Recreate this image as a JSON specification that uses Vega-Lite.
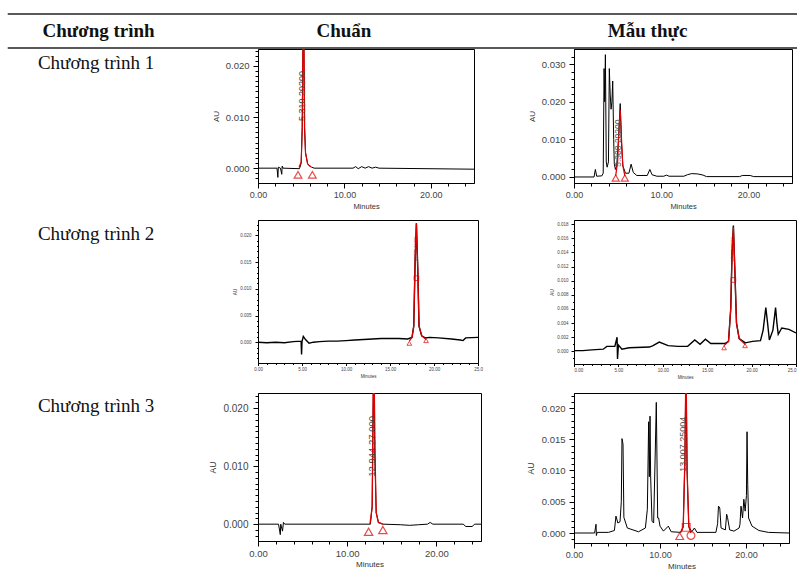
{
 "$schema": "https://vega.github.io/schema/vega-lite/v6.json",
 "background": "white",
 "padding": {"left": 0, "top": 13, "right": 0, "bottom": 0},
 "config": {
  "view": {"stroke": null},
  "axis": {"grid": false, "domainColor": "black", "tickColor": "black", "labelColor": "#444", "labelFont": "Liberation Sans", "titleFont": "Liberation Sans", "titleFontWeight": "normal", "titleColor": "#333", "labelOverlap": false, "labelFlush": false, "labelBound": false}
 },
 "datasets": {
  "r1c": [{"t":0,"au":0},{"t":2.2,"au":0},{"t":2.3,"au":-0.0018},{"t":2.35,"au":0.0002},{"t":2.6,"au":0},{"t":2.75,"au":-0.0012},{"t":2.8,"au":0.0004},{"t":2.9,"au":0},{"t":4.8,"au":-0.0001},{"t":5.0,"au":0.001},{"t":5.12,"au":0.008},{"t":5.22,"au":0.026},{"t":5.3,"au":0.026},{"t":5.38,"au":0.008},{"t":5.5,"au":0.003},{"t":5.75,"au":0.0008},{"t":6.2,"au":0.0002},{"t":6.5,"au":0},{"t":11,"au":0},{"t":11.3,"au":0.0003},{"t":11.6,"au":-0.0001},{"t":12,"au":0.0003},{"t":12.4,"au":0},{"t":12.8,"au":0.0003},{"t":13.2,"au":0},{"t":13.6,"au":0.0002},{"t":14,"au":0},{"t":25,"au":-0.0002}],
  "r1c_p": [{"t":4.75,"au":0.0002},{"t":5.0,"au":0.0012},{"t":5.12,"au":0.008},{"t":5.2,"au":0.026},{"t":5.32,"au":0.026},{"t":5.4,"au":0.008},{"t":5.5,"au":0.003},{"t":5.75,"au":0.0008},{"t":6.1,"au":0.0002}],
  "r1c_m": [{"t":4.63,"au":-0.0013,"m":"start"},{"t":6.29,"au":-0.0013,"m":"end"}],
  "r1c_l": [{"t":5.05,"au":0.0141,"label":"5.310   20200"}],
  "r1m": [{"t":0,"au":0},{"t":2.3,"au":0},{"t":2.45,"au":0.002},{"t":2.6,"au":0.0002},{"t":3.2,"au":0.0003},{"t":3.35,"au":0.001},{"t":3.45,"au":0.0288},{"t":3.52,"au":0.02},{"t":3.6,"au":0.0325},{"t":3.7,"au":0.004},{"t":3.8,"au":0.0026},{"t":3.95,"au":0.004},{"t":4.05,"au":0.0288},{"t":4.15,"au":0.022},{"t":4.25,"au":0.018},{"t":4.35,"au":0.02},{"t":4.44,"au":0.0255},{"t":4.55,"au":0.01},{"t":4.62,"au":0.0035},{"t":4.75,"au":0.002},{"t":4.9,"au":0.003},{"t":5.1,"au":0.01},{"t":5.3,"au":0.0195},{"t":5.45,"au":0.009},{"t":5.6,"au":0.003},{"t":5.9,"au":0.001},{"t":6.3,"au":0.001},{"t":6.55,"au":0.0034},{"t":6.8,"au":0.0012},{"t":7.2,"au":0.0004},{"t":8.4,"au":0.0004},{"t":8.7,"au":0.002},{"t":8.95,"au":0.0006},{"t":9.5,"au":0.0002},{"t":10.3,"au":0.0002},{"t":10.6,"au":0.0005},{"t":10.9,"au":0.0002},{"t":12.6,"au":0.0002},{"t":13.0,"au":0.0006},{"t":13.5,"au":0.0009},{"t":14.2,"au":0.0008},{"t":14.8,"au":0.0005},{"t":15.2,"au":0.0001},{"t":19.0,"au":0.0001},{"t":19.3,"au":0.0004},{"t":20.2,"au":0.0004},{"t":20.6,"au":0.0001},{"t":25,"au":0.0001}],
  "r1m_p": [{"t":4.78,"au":0.0003},{"t":5.0,"au":0.004},{"t":5.15,"au":0.012},{"t":5.3,"au":0.0178},{"t":5.45,"au":0.01},{"t":5.6,"au":0.003},{"t":5.83,"au":0.0003}],
  "r1m_m": [{"t":4.78,"au":-0.0003,"m":"start"},{"t":5.83,"au":-0.0003,"m":"end"}],
  "r1m_l": [{"t":5.06,"au":0.009,"label":"5.308   20200"}],
  "r2c": [{"t":0,"au":0},{"t":1,"au":-0.0001},{"t":2,"au":0},{"t":3,"au":-0.0001},{"t":4,"au":0.0001},{"t":4.9,"au":0.0002},{"t":4.95,"au":-0.0023},{"t":5.0,"au":0.0001},{"t":5.15,"au":0.0011},{"t":5.4,"au":0.0005},{"t":5.8,"au":-0.0002},{"t":6.3,"au":0},{"t":7,"au":0.0001},{"t":8,"au":0.0002},{"t":9,"au":0.0002},{"t":10,"au":0.0003},{"t":11,"au":0.0004},{"t":12,"au":0.0005},{"t":13,"au":0.0006},{"t":14,"au":0.0007},{"t":15,"au":0.0007},{"t":16,"au":0.0007},{"t":17,"au":0.0006},{"t":17.5,"au":0.0009},{"t":17.7,"au":0.003},{"t":17.85,"au":0.015},{"t":18.0,"au":0.0223},{"t":18.15,"au":0.014},{"t":18.3,"au":0.003},{"t":18.6,"au":0.0012},{"t":19.0,"au":0.0008},{"t":19.5,"au":0.0009},{"t":20.5,"au":0.0008},{"t":22,"au":0.0006},{"t":23,"au":0.0004},{"t":23.3,"au":0.0003},{"t":23.6,"au":0.0008},{"t":25,"au":0.0009}],
  "r2c_p": [{"t":17.2,"au":0.0002},{"t":17.5,"au":0.0009},{"t":17.7,"au":0.003},{"t":17.85,"au":0.015},{"t":18.0,"au":0.0223},{"t":18.15,"au":0.014},{"t":18.3,"au":0.003},{"t":18.6,"au":0.0012},{"t":19.1,"au":0.0005}],
  "r2c_m": [{"t":17.2,"au":-0.0002,"m":"start"},{"t":19.1,"au":0.0003,"m":"end"},{"t":18.0,"au":0.012,"m":"apex"}],
  "r2c_l": [{"t":17.9,"au":0.0175,"label":"17.979  20200"}],
  "r2m": [{"t":0,"au":0.0001},{"t":1,"au":0.0001},{"t":2,"au":0.0002},{"t":3.3,"au":0.0003},{"t":3.7,"au":0.0007},{"t":4.6,"au":0.0007},{"t":4.85,"au":0.002},{"t":4.9,"au":-0.0011},{"t":5.0,"au":0.0009},{"t":5.4,"au":0.0003},{"t":6.2,"au":0.0005},{"t":8.5,"au":0.0006},{"t":8.9,"au":0.0008},{"t":9.6,"au":0.0013},{"t":10.6,"au":0.0008},{"t":11.7,"au":0.0007},{"t":12.8,"au":0.0007},{"t":13.6,"au":0.0016},{"t":14.2,"au":0.001},{"t":14.8,"au":0.0017},{"t":15.4,"au":0.0011},{"t":16.2,"au":0.0011},{"t":17.0,"au":0.0011},{"t":17.4,"au":0.0014},{"t":17.65,"au":0.006},{"t":17.8,"au":0.014},{"t":17.95,"au":0.0178},{"t":18.1,"au":0.012},{"t":18.3,"au":0.004},{"t":18.6,"au":0.0018},{"t":19.3,"au":0.0012},{"t":20.1,"au":0.0014},{"t":21.0,"au":0.0015},{"t":21.3,"au":0.003},{"t":21.6,"au":0.0062},{"t":21.8,"au":0.004},{"t":22.0,"au":0.0016},{"t":22.4,"au":0.003},{"t":22.7,"au":0.0062},{"t":22.85,"au":0.004},{"t":23.0,"au":0.0024},{"t":23.4,"au":0.0033},{"t":24.2,"au":0.0031},{"t":25,"au":0.0026}],
  "r2m_p": [{"t":16.9,"au":0.0008},{"t":17.4,"au":0.0014},{"t":17.65,"au":0.006},{"t":17.8,"au":0.014},{"t":17.95,"au":0.0176},{"t":18.1,"au":0.012},{"t":18.3,"au":0.004},{"t":18.6,"au":0.0018},{"t":19.26,"au":0.001}],
  "r2m_m": [{"t":16.9,"au":0.0005,"m":"start"},{"t":19.26,"au":0.0008,"m":"end"},{"t":17.95,"au":0.0101,"m":"apex"}],
  "r2m_l": [{"t":17.9,"au":0.0145,"label":"17.946  20200"}],
  "r3c": [{"t":0,"au":0},{"t":2.3,"au":0},{"t":2.5,"au":-0.0018},{"t":2.55,"au":0},{"t":2.75,"au":-0.0012},{"t":2.85,"au":0.0003},{"t":3.0,"au":0},{"t":12.6,"au":0},{"t":12.8,"au":0.003},{"t":12.95,"au":0.026},{"t":13.1,"au":0.012},{"t":13.25,"au":0.002},{"t":13.5,"au":0.0003},{"t":14,"au":0},{"t":16,"au":-0.0001},{"t":17,"au":-0.0002},{"t":18,"au":-0.0001},{"t":19,"au":0},{"t":19.3,"au":0.0003},{"t":19.6,"au":0},{"t":23,"au":0},{"t":23.3,"au":-0.0004},{"t":24,"au":-0.0004},{"t":24.3,"au":0},{"t":25,"au":0}],
  "r3c_p": [{"t":12.55,"au":0},{"t":12.8,"au":0.003},{"t":12.93,"au":0.026},{"t":13.02,"au":0.026},{"t":13.12,"au":0.012},{"t":13.25,"au":0.002},{"t":13.5,"au":0.0003},{"t":14.0,"au":0}],
  "r3c_m": [{"t":12.4,"au":-0.0013,"m":"start"},{"t":14.0,"au":-0.001,"m":"end"}],
  "r3c_l": [{"t":12.78,"au":0.0134,"label":"12.944   27.000"}],
  "r3m": [{"t":0,"au":0},{"t":2.4,"au":0},{"t":2.56,"au":0.0014},{"t":2.6,"au":-0.0004},{"t":2.7,"au":0.0001},{"t":4.0,"au":0.0001},{"t":4.7,"au":0.0004},{"t":4.88,"au":0.0027},{"t":5.1,"au":0.0016},{"t":5.35,"au":0.0018},{"t":5.5,"au":0.005},{"t":5.58,"au":0.0151},{"t":5.7,"au":0.0142},{"t":5.8,"au":0.0025},{"t":6.2,"au":0.0008},{"t":7.5,"au":0.0002},{"t":8.3,"au":0.0008},{"t":8.53,"au":0.0038},{"t":8.68,"au":0.0178},{"t":8.76,"au":0.009},{"t":8.84,"au":0.0187},{"t":8.91,"au":0.0091},{"t":9.07,"au":0.0019},{"t":9.26,"au":0.0016},{"t":9.46,"au":0.0136},{"t":9.57,"au":0.0209},{"t":9.73,"au":0.0024},{"t":9.84,"au":0.0024},{"t":10.0,"au":0.0011},{"t":10.4,"au":0.0003},{"t":10.97,"au":0.0011},{"t":11.3,"au":0.0002},{"t":12.4,"au":0.0001},{"t":12.7,"au":0.001},{"t":12.9,"au":0.012},{"t":13.02,"au":0.028},{"t":13.15,"au":0.01},{"t":13.35,"au":0.001},{"t":13.7,"au":0.0002},{"t":14.0,"au":0.0008},{"t":14.3,"au":0.0001},{"t":16.5,"au":0.0001},{"t":16.7,"au":0.0015},{"t":16.8,"au":0.0043},{"t":16.95,"au":0.004},{"t":17.1,"au":0.0008},{"t":17.6,"au":0.0005},{"t":17.75,"au":0.003},{"t":17.85,"au":0.0025},{"t":18.1,"au":0.0005},{"t":18.6,"au":0.0003},{"t":19.2,"au":0.0008},{"t":19.3,"au":0.0014},{"t":19.42,"au":0.0043},{"t":19.6,"au":0.0024},{"t":19.75,"au":0.0054},{"t":19.9,"au":0.0035},{"t":20.05,"au":0.006},{"t":20.12,"au":0.0162},{"t":20.2,"au":0.0078},{"t":20.3,"au":0.0024},{"t":20.7,"au":0.0011},{"t":21.5,"au":0.0004},{"t":22.6,"au":0.0001},{"t":25,"au":0}],
  "r3m_p": [{"t":12.4,"au":0.0001},{"t":12.7,"au":0.001},{"t":12.9,"au":0.012},{"t":13.02,"au":0.028},{"t":13.15,"au":0.01},{"t":13.35,"au":0.001},{"t":13.6,"au":0}],
  "r3m_m": [{"t":12.29,"au":-0.0005,"m":"start"},{"t":13.6,"au":-0.0004,"m":"circle"},{"t":13.05,"au":0.0009,"m":"apex"}],
  "r3m_l": [{"t":12.7,"au":0.0142,"label":"13.007   25004"}]
 },
 "columns": 3,
 "bounds": "flush",
 "align": "each",
 "spacing": {"row": 1, "column": 0},
 "concat": [
  {"width": 258, "height": 34, "data": {"values": [{"h": "Chương trình"}]},
   "layer": [
    {"mark": {"type": "rule", "color": "#222", "strokeWidth": 1.6}, "encoding": {"x": {"datum": 0.03, "scale": {"domain": [0, 1]}, "axis": null}, "x2": {"datum": 1}, "y": {"datum": 1, "scale": {"domain": [0, 1]}, "axis": null}}},
    {"mark": {"type": "rule", "color": "#222", "strokeWidth": 1.6}, "encoding": {"x": {"datum": 0.03}, "x2": {"datum": 1}, "y": {"datum": 0}}},
    {"mark": {"type": "text", "font": "Liberation Serif", "fontWeight": "bold", "fontSize": 19, "color": "#111", "align": "center", "baseline": "middle"}, "encoding": {"text": {"field": "h"}, "x": {"datum": 0.382}, "y": {"datum": 0.5}}}
   ]},
  {"width": 316, "height": 34, "data": {"values": [{"h": "Chuẩn"}]},
   "layer": [
    {"mark": {"type": "rule", "color": "#222", "strokeWidth": 1.6}, "encoding": {"y": {"datum": 1, "scale": {"domain": [0, 1]}, "axis": null}}},
    {"mark": {"type": "rule", "color": "#222", "strokeWidth": 1.6}, "encoding": {"y": {"datum": 0}}},
    {"mark": {"type": "text", "font": "Liberation Serif", "fontWeight": "bold", "fontSize": 19, "color": "#111", "align": "center", "baseline": "middle"}, "encoding": {"text": {"field": "h"}, "x": {"datum": 0.272, "scale": {"domain": [0, 1]}, "axis": null}, "y": {"datum": 0.5}}}
   ]},
  {"width": 223, "height": 34, "data": {"values": [{"h": "Mẫu thực"}]},
   "layer": [
    {"mark": {"type": "rule", "color": "#222", "strokeWidth": 1.6}, "encoding": {"y": {"datum": 1, "scale": {"domain": [0, 1]}, "axis": null}}},
    {"mark": {"type": "rule", "color": "#222", "strokeWidth": 1.6}, "encoding": {"y": {"datum": 0}}},
    {"mark": {"type": "text", "font": "Liberation Serif", "fontWeight": "bold", "fontSize": 19, "color": "#111", "align": "center", "baseline": "middle"}, "encoding": {"text": {"field": "h"}, "x": {"datum": 0.33, "scale": {"domain": [0, 1]}, "axis": null}, "y": {"datum": 0.5}}}
   ]},

  {"width": 258, "height": 170, "data": {"values": [{"label": "Chương trình 1"}]},
   "mark": {"type": "text", "font": "Liberation Serif", "fontSize": 19, "color": "#111", "align": "left", "baseline": "middle"},
   "encoding": {"text": {"field": "label"}, "x": {"datum": 0.147, "scale": {"domain": [0, 1]}, "axis": null}, "y": {"datum": 0.92, "scale": {"domain": [0, 1]}, "axis": null}}},
  {"width": 216, "height": 134, "view": {"stroke": "black"},
   "encoding": {
    "x": {"field": "t", "type": "quantitative", "scale": {"domain": [0, 25], "nice": false, "zero": false},
      "axis": {"values": [0,2,4,6,8,10,12,14,16,18,20,22,24], "labelExpr": "datum.value % 10 === 0 ? format(datum.value, '.2f') : ''", "tickSize": {"condition": {"test": "datum.value % 10 === 0", "value": 5}, "value": 3}, "labelFontSize": 9, "title": "Minutes", "titleFontSize": 7.5, "labelPadding": 2, "titlePadding": 3}},
    "y": {"field": "au", "type": "quantitative", "scale": {"domain": [-0.0029, 0.0233], "nice": false, "zero": false},
      "axis": {"values": [-0.002,-0.001,0,0.001,0.002,0.003,0.004,0.005,0.006,0.007,0.008,0.009,0.01,0.011,0.012,0.013,0.014,0.015,0.016,0.017,0.018,0.019,0.02,0.021,0.022,0.023], "labelExpr": "abs(datum.value*100-round(datum.value*100)) < 1e-6 ? format(datum.value, '.3f') : ''", "tickSize": {"condition": {"test": "abs(datum.value*100-round(datum.value*100)) < 1e-6", "value": 5}, "value": 3}, "labelFontSize": 9.5, "title": "AU", "titleFontSize": 8, "labelPadding": 4, "titlePadding": 5}}
   },
   "layer": [
    {"data": {"name": "r1c"}, "mark": {"type": "line", "color": "black", "strokeWidth": 1, "clip": true}},
    {"data": {"name": "r1c_p"}, "mark": {"type": "line", "color": "#e00000", "strokeWidth": 1.2, "clip": true}},
    {"data": {"name": "r1c_m"}, "mark": {"type": "point", "color": "#e00000", "filled": false, "size": 60, "strokeWidth": 1.2, "clip": true}, "encoding": {"shape": {"field": "m", "type": "nominal", "scale": {"domain": ["start", "end", "apex", "circle"], "range": ["triangle-up", "triangle-up", "square", "circle"]}, "legend": null}}},
    {"data": {"name": "r1c_l"}, "mark": {"type": "text", "angle": 270, "fontSize": 9, "color": "#444", "font": "Liberation Sans", "align": "center", "baseline": "middle"}, "encoding": {"text": {"field": "label"}}}
   ]},
  {"width": 218, "height": 134, "view": {"stroke": "black"},
   "encoding": {
    "x": {"field": "t", "type": "quantitative", "scale": {"domain": [0, 25], "nice": false, "zero": false},
      "axis": {"values": [0,2,4,6,8,10,12,14,16,18,20,22,24], "labelExpr": "datum.value % 10 === 0 ? format(datum.value, '.2f') : ''", "tickSize": {"condition": {"test": "datum.value % 10 === 0", "value": 5}, "value": 3}, "labelFontSize": 9, "title": "Minutes", "titleFontSize": 7.5, "labelPadding": 2, "titlePadding": 3}},
    "y": {"field": "au", "type": "quantitative", "scale": {"domain": [-0.0016, 0.034], "nice": false, "zero": false},
      "axis": {"values": [0,0.002,0.004,0.006,0.008,0.01,0.012,0.014,0.016,0.018,0.02,0.022,0.024,0.026,0.028,0.03,0.032], "labelExpr": "abs(datum.value*100-round(datum.value*100)) < 1e-6 ? format(datum.value, '.3f') : ''", "tickSize": {"condition": {"test": "abs(datum.value*100-round(datum.value*100)) < 1e-6", "value": 5}, "value": 3}, "labelFontSize": 9.5, "title": "AU", "titleFontSize": 8, "labelPadding": 4, "titlePadding": 5}}
   },
   "layer": [
    {"data": {"name": "r1m"}, "mark": {"type": "line", "color": "black", "strokeWidth": 1, "clip": true}},
    {"data": {"name": "r1m_p"}, "mark": {"type": "line", "color": "#e00000", "strokeWidth": 1.2, "clip": true}},
    {"data": {"name": "r1m_m"}, "mark": {"type": "point", "color": "#e00000", "filled": false, "size": 50, "strokeWidth": 1.2, "clip": true}, "encoding": {"shape": {"field": "m", "type": "nominal", "legend": null}}},
    {"data": {"name": "r1m_l"}, "mark": {"type": "text", "angle": 270, "fontSize": 8.5, "color": "#555", "font": "Liberation Sans", "align": "center", "baseline": "middle"}, "encoding": {"text": {"field": "label"}}}
   ]},

  {"width": 258, "height": 172, "data": {"values": [{"label": "Chương trình 2"}]},
   "mark": {"type": "text", "font": "Liberation Serif", "fontSize": 19, "color": "#111", "align": "left", "baseline": "middle"},
   "encoding": {"text": {"field": "label"}, "x": {"datum": 0.147, "scale": {"domain": [0, 1]}, "axis": null}, "y": {"datum": 0.92, "scale": {"domain": [0, 1]}, "axis": null}}},
  {"width": 220, "height": 143, "view": {"stroke": "black"},
   "encoding": {
    "x": {"field": "t", "type": "quantitative", "scale": {"domain": [0, 25], "nice": false, "zero": false},
      "axis": {"values": [0,1,2,3,4,5,6,7,8,9,10,11,12,13,14,15,16,17,18,19,20,21,22,23,24,25], "labelExpr": "datum.value % 5 === 0 ? (datum.value === 25 ? '25.0' : format(datum.value, '.2f')) : ''", "tickSize": {"condition": {"test": "datum.value % 5 === 0", "value": 2.5}, "value": 1.5}, "labelFontSize": 4.5, "title": "Minutes", "titleFontSize": 4.5, "labelPadding": 1, "titlePadding": 2}},
    "y": {"field": "au", "type": "quantitative", "scale": {"domain": [-0.0039, 0.0229], "nice": false, "zero": false},
      "axis": {"values": [-0.003,-0.002,-0.001,0,0.001,0.002,0.003,0.004,0.005,0.006,0.007,0.008,0.009,0.01,0.011,0.012,0.013,0.014,0.015,0.016,0.017,0.018,0.019,0.02,0.021,0.022], "labelExpr": "abs(datum.value*200-round(datum.value*200)) < 1e-6 ? format(datum.value, '.3f') : ''", "tickSize": {"condition": {"test": "abs(datum.value*200-round(datum.value*200)) < 1e-6", "value": 3}, "value": 1.5}, "labelFontSize": 4.5, "title": "AU", "titleFontSize": 4.5, "labelPadding": 4, "titlePadding": 2}}
   },
   "layer": [
    {"data": {"name": "r2c"}, "mark": {"type": "line", "color": "black", "strokeWidth": 1.4, "clip": true}},
    {"data": {"name": "r2c_p"}, "mark": {"type": "line", "color": "#e00000", "strokeWidth": 1.2, "clip": true}},
    {"data": {"name": "r2c_m"}, "mark": {"type": "point", "color": "#e00000", "filled": false, "size": 22, "strokeWidth": 1, "clip": true}, "encoding": {"shape": {"field": "m", "type": "nominal", "legend": null}}},
    {"data": {"name": "r2c_l"}, "mark": {"type": "text", "angle": 270, "fontSize": 4, "color": "#e00000", "font": "Liberation Sans", "align": "center", "baseline": "middle"}, "encoding": {"text": {"field": "label"}}}
   ]},
  {"width": 222, "height": 144, "view": {"stroke": "black"},
   "encoding": {
    "x": {"field": "t", "type": "quantitative", "scale": {"domain": [0, 25], "nice": false, "zero": false},
      "axis": {"values": [0,1,2,3,4,5,6,7,8,9,10,11,12,13,14,15,16,17,18,19,20,21,22,23,24,25], "labelExpr": "datum.value % 5 === 0 ? (datum.value === 25 ? '25.0' : format(datum.value, '.2f')) : ''", "tickSize": {"condition": {"test": "datum.value % 5 === 0", "value": 2.5}, "value": 1.5}, "labelFontSize": 4.5, "labelFlush": true, "title": "Minutes", "titleFontSize": 4.5, "labelPadding": 1, "titlePadding": 2}},
    "y": {"field": "au", "type": "quantitative", "scale": {"domain": [-0.0018, 0.0186], "nice": false, "zero": false},
      "axis": {"values": [-0.001,0,0.001,0.002,0.003,0.004,0.005,0.006,0.007,0.008,0.009,0.01,0.011,0.012,0.013,0.014,0.015,0.016,0.017,0.018], "labelExpr": "abs(datum.value*500-round(datum.value*500)) < 1e-6 ? format(datum.value, '.3f') : ''", "tickSize": {"condition": {"test": "abs(datum.value*500-round(datum.value*500)) < 1e-6", "value": 3}, "value": 1.5}, "labelFontSize": 4.5, "title": "AU", "titleFontSize": 4.5, "labelPadding": 3, "titlePadding": 2}}
   },
   "layer": [
    {"data": {"name": "r2m"}, "mark": {"type": "line", "color": "black", "strokeWidth": 1.4, "clip": true}},
    {"data": {"name": "r2m_p"}, "mark": {"type": "line", "color": "#e00000", "strokeWidth": 1.2, "clip": true}},
    {"data": {"name": "r2m_m"}, "mark": {"type": "point", "color": "#e00000", "filled": false, "size": 22, "strokeWidth": 1, "clip": true}, "encoding": {"shape": {"field": "m", "type": "nominal", "legend": null}}},
    {"data": {"name": "r2m_l"}, "mark": {"type": "text", "angle": 270, "fontSize": 4, "color": "#e00000", "font": "Liberation Sans", "align": "center", "baseline": "middle"}, "encoding": {"text": {"field": "label"}}}
   ]},

  {"width": 258, "height": 150, "data": {"values": [{"label": "Chương trình 3"}]},
   "mark": {"type": "text", "font": "Liberation Serif", "fontSize": 19, "color": "#111", "align": "left", "baseline": "middle"},
   "encoding": {"text": {"field": "label"}, "x": {"datum": 0.147, "scale": {"domain": [0, 1]}, "axis": null}, "y": {"datum": 0.913, "scale": {"domain": [0, 1]}, "axis": null}}},
  {"width": 223, "height": 148, "view": {"stroke": "black"},
   "encoding": {
    "x": {"field": "t", "type": "quantitative", "scale": {"domain": [0, 25], "nice": false, "zero": false},
      "axis": {"values": [0,2,4,6,8,10,12,14,16,18,20,22,24], "labelExpr": "datum.value % 10 === 0 ? format(datum.value, '.2f') : ''", "tickSize": {"condition": {"test": "datum.value % 10 === 0", "value": 5}, "value": 3}, "labelFontSize": 9.5, "title": "Minutes", "titleFontSize": 8, "labelPadding": 2, "titlePadding": 3}},
    "y": {"field": "au", "type": "quantitative", "scale": {"domain": [-0.0029, 0.0226], "nice": false, "zero": false},
      "axis": {"values": [-0.002,-0.001,0,0.001,0.002,0.003,0.004,0.005,0.006,0.007,0.008,0.009,0.01,0.011,0.012,0.013,0.014,0.015,0.016,0.017,0.018,0.019,0.02,0.021,0.022], "labelExpr": "abs(datum.value*100-round(datum.value*100)) < 1e-6 ? format(datum.value, '.3f') : ''", "tickSize": {"condition": {"test": "abs(datum.value*100-round(datum.value*100)) < 1e-6", "value": 5}, "value": 3}, "labelFontSize": 10, "title": "AU", "titleFontSize": 8.5, "labelPadding": 5, "titlePadding": 5}}
   },
   "layer": [
    {"data": {"name": "r3c"}, "mark": {"type": "line", "color": "black", "strokeWidth": 1, "clip": true}},
    {"data": {"name": "r3c_p"}, "mark": {"type": "line", "color": "#e00000", "strokeWidth": 1.3, "clip": true}},
    {"data": {"name": "r3c_m"}, "mark": {"type": "point", "color": "#e00000", "filled": false, "size": 70, "strokeWidth": 1.2, "clip": true}, "encoding": {"shape": {"field": "m", "type": "nominal", "legend": null}}},
    {"data": {"name": "r3c_l"}, "mark": {"type": "text", "angle": 270, "fontSize": 9.5, "color": "#444", "font": "Liberation Sans", "align": "center", "baseline": "middle"}, "encoding": {"text": {"field": "label"}}}
   ]},
  {"width": 215, "height": 150, "view": {"stroke": "black"},
   "encoding": {
    "x": {"field": "t", "type": "quantitative", "scale": {"domain": [0, 25], "nice": false, "zero": false},
      "axis": {"values": [0,2,4,6,8,10,12,14,16,18,20,22,24], "labelExpr": "datum.value % 10 === 0 ? format(datum.value, '.2f') : ''", "tickSize": {"condition": {"test": "datum.value % 10 === 0", "value": 5}, "value": 3}, "labelFontSize": 9, "title": "Minutes", "titleFontSize": 8, "labelPadding": 2, "titlePadding": 3}},
    "y": {"field": "au", "type": "quantitative", "scale": {"domain": [-0.0016, 0.0224], "nice": false, "zero": false},
      "axis": {"values": [-0.001,0,0.001,0.002,0.003,0.004,0.005,0.006,0.007,0.008,0.009,0.01,0.011,0.012,0.013,0.014,0.015,0.016,0.017,0.018,0.019,0.02,0.021,0.022], "labelExpr": "abs(datum.value*200-round(datum.value*200)) < 1e-6 ? format(datum.value, '.3f') : ''", "tickSize": {"condition": {"test": "abs(datum.value*200-round(datum.value*200)) < 1e-6", "value": 5}, "value": 3}, "labelFontSize": 9.5, "title": "AU", "titleFontSize": 8.5, "labelPadding": 4, "titlePadding": 6}}
   },
   "layer": [
    {"data": {"name": "r3m"}, "mark": {"type": "line", "color": "black", "strokeWidth": 1, "clip": true}},
    {"data": {"name": "r3m_p"}, "mark": {"type": "line", "color": "#e00000", "strokeWidth": 1.3, "clip": true}},
    {"data": {"name": "r3m_m"}, "mark": {"type": "point", "color": "#e00000", "filled": false, "size": 60, "strokeWidth": 1.2, "clip": true}, "encoding": {"shape": {"field": "m", "type": "nominal", "legend": null}}},
    {"data": {"name": "r3m_l"}, "mark": {"type": "text", "angle": 270, "fontSize": 9, "color": "#555", "font": "Liberation Sans", "align": "center", "baseline": "middle"}, "encoding": {"text": {"field": "label"}}}
   ]}
 ]
}
